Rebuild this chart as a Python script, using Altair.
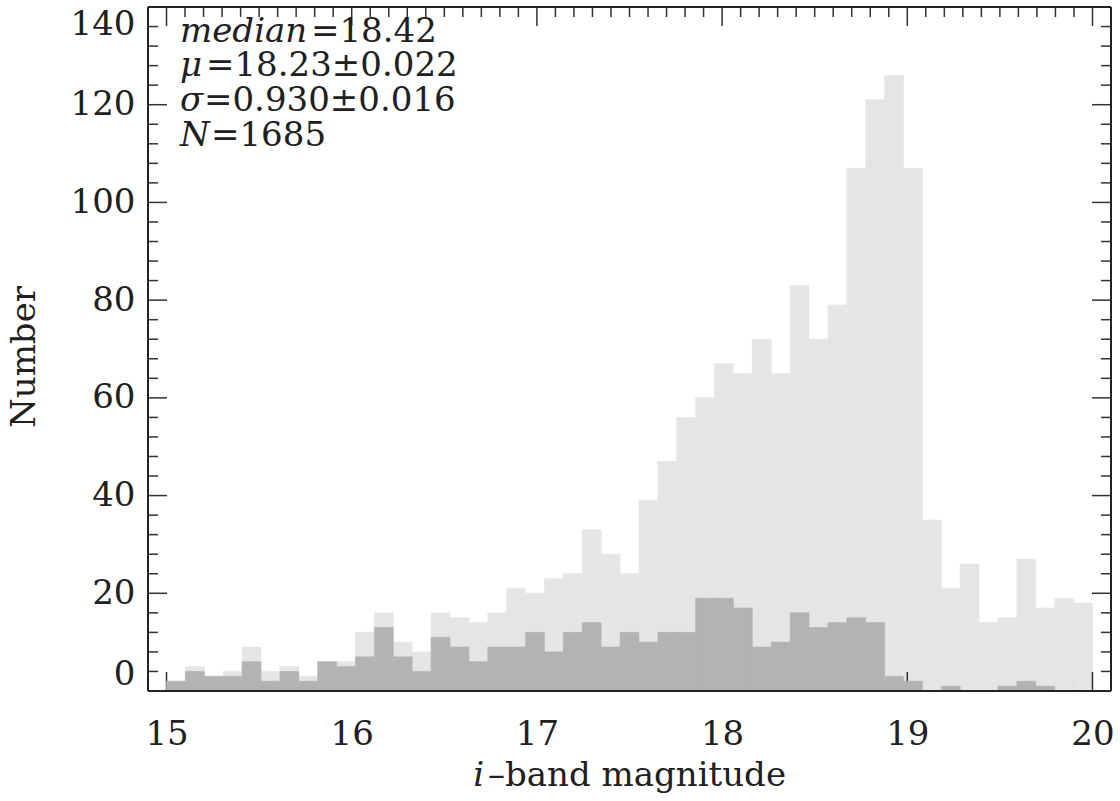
import altair as alt
import numpy as np
import pandas as pd

# Histogram of i-band magnitudes: 49 equal bins between 15 and 20
bin_lo_mag = 15.0
bin_hi_mag = 20.0
n_bins = 49

# all objects
counts_all = [2, 5, 3, 4, 9, 4, 5, 3, 6, 6, 12, 16, 10, 8, 16, 15, 14, 16, 21, 20,
              23, 24, 33, 28, 24, 39, 47, 56, 60, 67, 65, 72, 65, 83, 72, 79, 107, 121,
              126, 107, 35, 21, 26, 14, 15, 27, 17, 19, 18]
# sub-sample
counts_sub = [2, 4, 3, 3, 6, 2, 4, 2, 6, 5, 7, 13, 7, 4, 11, 9, 6, 9, 9, 12,
              8, 12, 14, 9, 12, 10, 12, 12, 19, 19, 17, 9, 10, 16, 13, 14, 15, 14,
              3, 2, 0, 1, 0, 0, 1, 2, 1, 0, 0]

x_tick_labels = [15, 16, 17, 18, 19, 20]
y_tick_labels = [0, 20, 40, 60, 80, 100, 120, 140]

stat_symbols = ["median", "μ", "σ", "N"]
stat_values = ["=18.42", "=18.23±0.022", "=0.930±0.016", "=1685"]

X_DOMAIN = [14.9, 20.1]
Y_DOMAIN = [0, 140]
W, H = 963, 684
FONT = "DejaVu Serif"
FS = 34
LIGHT = "#e5e5e5"
DARK = "#b3b3b3"
INK = "#202020"

edges = np.linspace(bin_lo_mag, bin_hi_mag, n_bins + 1)
bars = pd.DataFrame({
    "lo": edges[:-1],
    "hi": edges[1:],
    "all": counts_all,
    "sub": counts_sub,
})

xs = alt.Scale(domain=X_DOMAIN, nice=False, zero=False)
ys = alt.Scale(domain=Y_DOMAIN, nice=False, zero=False)

x_axis = alt.Axis(
    values=x_tick_labels, ticks=False, domain=False, grid=False, title=None,
    labelFont=FONT, labelFontSize=FS, labelColor=INK, labelPadding=26,
    labelFlush=False, format="d")
y_axis = alt.Axis(
    values=y_tick_labels, ticks=False, domain=False, grid=False, title=None,
    labelFont=FONT, labelFontSize=FS, labelColor=INK, labelPadding=13,
    labelFlush=True, labelFlushOffset=0, format="d")


def X(field):
    return alt.X(field, scale=xs, axis=x_axis)


def Y(field):
    return alt.Y(field, scale=ys, axis=y_axis)


light = alt.Chart(bars).mark_rect(color=LIGHT, stroke=LIGHT, strokeWidth=0.6).encode(
    x=X("lo:Q"), x2="hi:Q", y=Y("all:Q"), y2=alt.datum(0),
)

dark = alt.Chart(bars).mark_rect(color=DARK, stroke=DARK, strokeWidth=0.6).encode(
    x=X("lo:Q"), x2="hi:Q", y=Y("sub:Q"), y2=alt.datum(0),
)

# tick positions
x_major = [float(v) for v in x_tick_labels]
x_minor = [round(v / 10, 1) for v in range(149, 202) if v % 10 != 0]
y_major = [float(v) for v in y_tick_labels]
y_minor = [float(v) for v in range(0, 141, 4) if v % 20 != 0]

MAJ, MIN = 19, 10


def xticks(vals, y0, y1):
    return alt.Chart(pd.DataFrame({"v": vals})).mark_rule(
        color="#333", strokeWidth=1.5).encode(
        x=X("v:Q"), y=alt.value(y0), y2=alt.value(y1))


def yticks(vals, x0, x1):
    return alt.Chart(pd.DataFrame({"v": vals})).mark_rule(
        color="#333", strokeWidth=1.5).encode(
        y=Y("v:Q"), x=alt.value(x0), x2=alt.value(x1))


bottom_minor = xticks(x_minor, H, H - MIN)
bottom_major = xticks(x_major, H, H - MAJ)
top_ticks = alt.layer(xticks(x_major, 0, MAJ), xticks(x_minor, 0, MIN))
side_ticks = alt.layer(
    yticks(y_major, 0, MAJ), yticks(y_minor, 0, MIN),
    yticks(y_major, W, W - MAJ), yticks(y_minor, W, W - MIN),
)

frame_df = pd.DataFrame({
    "x": [X_DOMAIN[0], X_DOMAIN[0], X_DOMAIN[1], X_DOMAIN[0]],
    "x2": [X_DOMAIN[1], X_DOMAIN[1], X_DOMAIN[1], X_DOMAIN[0]],
    "y": [Y_DOMAIN[0], Y_DOMAIN[1], Y_DOMAIN[0], Y_DOMAIN[0]],
    "y2": [Y_DOMAIN[0], Y_DOMAIN[1], Y_DOMAIN[1], Y_DOMAIN[1]],
})
frame = alt.Chart(frame_df).mark_rule(color="#222", strokeWidth=2).encode(
    x=X("x:Q"), x2="x2:Q", y=Y("y:Q"), y2="y2:Q",
)


def label(txt, x, y, italic=False, align="left", angle=0):
    return alt.Chart(pd.DataFrame({"t": [txt]})).mark_text(
        font=FONT, fontSize=FS, color=INK, align=align, baseline="alphabetic",
        fontStyle="italic" if italic else "normal", angle=angle,
    ).encode(text="t:N", x=alt.value(x), y=alt.value(y))


# statistics block in the upper-left corner
stat_x = 32
stat_split = [163, 58, 56, 63]
stat_y = [35, 69, 104, 139]
stats = []
for sym, val, sx, sy in zip(stat_symbols, stat_values, stat_split, stat_y):
    stats.append(label(sym, stat_x, sy, italic=True))
    stats.append(label(val, sx, sy))

# axis titles
x_title = alt.layer(
    label("i", 336, 779, italic=True, align="right"),
    label("–band magnitude", 340, 779),
)
y_title = alt.Chart(pd.DataFrame({"t": ["Number"]})).mark_text(
    font=FONT, fontSize=FS, color=INK, align="center", baseline="middle", angle=270,
).encode(text="t:N", x=alt.value(-123), y=alt.value(350))

chart = alt.layer(
    bottom_minor, light, bottom_major, dark, top_ticks, side_ticks, frame,
    *stats, x_title, y_title,
).properties(
    width=W, height=H,
    autosize=alt.AutoSizeParams(type="none"),
    padding={"left": 148, "top": 7, "right": 9, "bottom": 110},
).configure_view(stroke=None).configure(background="white")

chart.save("out.html", embed_options={"renderer": "svg", "actions": False})
